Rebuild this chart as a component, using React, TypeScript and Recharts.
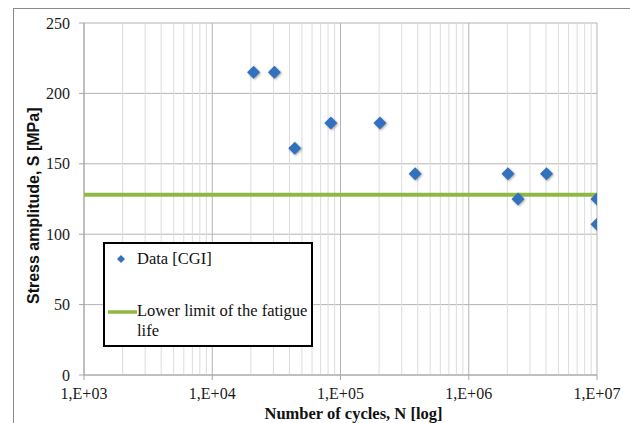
import React from 'react';
import {
  ScatterChart, Scatter, XAxis, YAxis, CartesianGrid, Legend, ReferenceLine,
} from 'recharts';

// fatigue test results (cycles to failure vs stress amplitude)
const cycles = [21000, 30500, 44000, 84000, 203000, 382000, 2020000, 2420000, 4040000, 10000000, 10000000];
const stress = [215, 215, 161, 179, 179, 143, 143, 125, 143, 125, 107];

const limitCycles = [1000, 10000000];
const limitStress = [128, 128];

const xTicks = [1e3, 1e4, 1e5, 1e6, 1e7];
const yTicks = [0, 50, 100, 150, 200, 250];
const minorSteps = [2, 3, 4, 5, 6, 7, 8, 9];

const data = cycles.map((n, i) => ({ n, s: stress[i] }));
const limit = limitCycles.map((n, i) => ({ n, s: limitStress[i] }));
const minorTicks = xTicks.slice(0, -1).flatMap((d) => minorSteps.map((m) => d * m));

const BLUE = '#3271bd';
const GREEN = '#8fb944';
const serif = "'Liberation Serif', 'Times New Roman', serif";

const fmtTick = (v: number) => `1,E+0${Math.round(Math.log10(v))}`;

const Diamond = (props: any) => {
  const { cx, cy } = props;
  if (cx == null || cy == null) return <g />;
  const r = 6.5;
  return (
    <polygon
      points={`${cx},${cy - r} ${cx + r},${cy} ${cx},${cy + r} ${cx - r},${cy}`}
      fill={BLUE}
      style={{ filter: 'drop-shadow(1px 1px 1px rgba(0,0,0,0.35))' }}
    />
  );
};

const LegendBox = () => (
  <div
    style={{
      width: 210, height: 105, boxSizing: 'border-box', border: '2px solid #000',
      background: '#fff', fontFamily: serif, fontSize: 16.5, color: '#111', position: 'relative',
    }}
  >
    <svg width={40} height={100} style={{ position: 'absolute', left: 0, top: 0 }}>
      <polygon points="16,11 20,15 16,19 12,15" fill={BLUE} />
      <line x1={3} x2={32} y1={68} y2={68} stroke={GREEN} strokeWidth={3.5} />
    </svg>
    <div style={{ position: 'absolute', left: 32, top: 5, lineHeight: '20px' }}>Data [CGI]</div>
    <div style={{ position: 'absolute', left: 32, top: 57, lineHeight: '20px', whiteSpace: 'nowrap' }}>
      Lower limit of the fatigue<br />life
    </div>
  </div>
);

export default function App() {
  return (
    <div style={{ position: 'absolute', left: 0, top: 0, width: 630, height: 423, background: '#fff' }}>
      <div
        style={{
          position: 'absolute', left: 13, top: 8, right: 0, bottom: 0,
          borderLeft: '1px solid #8a8a8a', borderTop: '1px solid #8a8a8a',
        }}
      />
      <ScatterChart
        width={630}
        height={423}
        margin={{ top: 23, right: 33, bottom: 0, left: 0 }}
        style={{ position: 'absolute', left: 0, top: 0 }}
      >
        {minorTicks.map((v) => (
          <ReferenceLine key={v} x={v} stroke="#dcdcdc" />
        ))}
        <CartesianGrid stroke="#b4b4b4" />
        <XAxis
          type="number"
          dataKey="n"
          scale="log"
          domain={[1e3, 1e7]}
          ticks={xTicks}
          allowDataOverflow
          tickFormatter={fmtTick}
          height={48}
          stroke="#a6a6a6"
          tickSize={5}
          tickMargin={8}
          tick={{ fontFamily: serif, fontSize: 16, fill: '#1a1a1a' }}
          label={{
            value: 'Number of cycles, N [log]',
            position: 'insideBottom',
            offset: 4,
            dx: 13,
            style: { fontFamily: serif, fontSize: 16.5, fontWeight: 'bold', fill: '#111' },
          }}
        />
        <YAxis
          type="number"
          dataKey="s"
          domain={[0, 250]}
          ticks={yTicks}
          width={84}
          stroke="#a6a6a6"
          tickSize={5}
          tickMargin={9}
          tick={{ fontFamily: serif, fontSize: 16, fill: '#1a1a1a' }}
          label={{
            value: 'Stress amplitude, S [MPa]',
            angle: -90,
            position: 'insideLeft',
            offset: 33,
            dy: 105,
            style: { fontFamily: "'Liberation Sans', Arial, sans-serif", fontSize: 16, fontWeight: 'bold', fill: '#111' },
          }}
        />
        <Legend
          layout="horizontal"
          verticalAlign="middle"
          align="center"
          content={<LegendBox />}
          wrapperStyle={{ left: 103, top: 242, width: 210, height: 105 }}
        />
        <Scatter
          name="Lower limit of the fatigue life"
          data={limit}
          line={{ stroke: GREEN, strokeWidth: 4 }}
          shape={() => <g />}
          isAnimationActive={false}
        />
        <Scatter
          name="Data [CGI]"
          data={data}
          shape={Diamond}
          isAnimationActive={false}
        />
      </ScatterChart>
    </div>
  );
}
